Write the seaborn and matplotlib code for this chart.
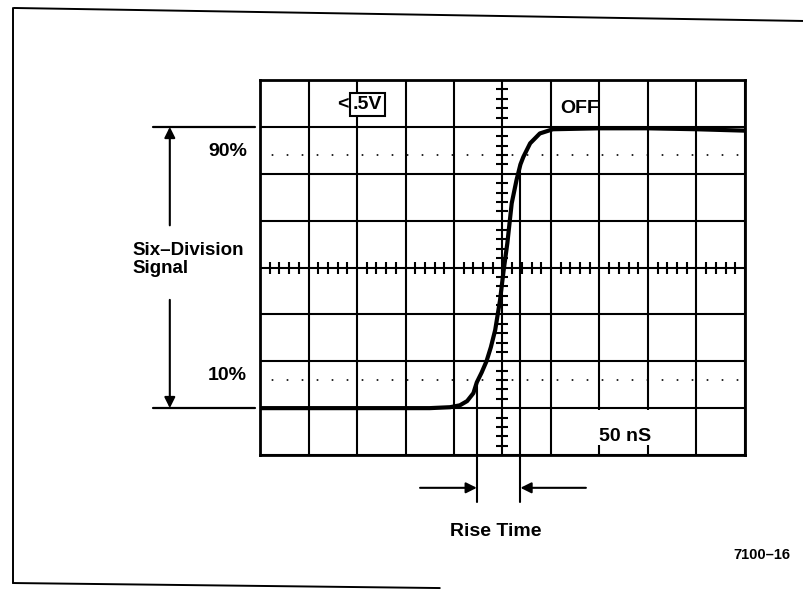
import numpy as np
import pandas as pd
import seaborn as sns
import matplotlib.pyplot as plt
from matplotlib.lines import Line2D
from matplotlib.patches import Rectangle

# step response trace, in graticule divisions (x: 0..10, y: -4..4)
trace_x = [0.0, 1.0, 2.0, 3.0, 3.5, 3.92, 4.12, 4.27, 4.40, 4.47, 4.57,
           4.67, 4.76, 4.85, 4.95, 5.02, 5.10, 5.19, 5.29, 5.37, 5.43,
           5.57, 5.77, 6.04, 7.0, 8.0, 9.0, 10.0]
trace_y = [-3.0, -3.0, -3.0, -3.0, -3.0, -2.98, -2.94, -2.85, -2.68, -2.45,
           -2.24, -2.0, -1.7, -1.33, -0.69, -0.09, 0.52, 1.37, 1.87,
           2.2, 2.36, 2.65, 2.86, 2.95, 2.97, 2.97, 2.95, 2.92]

level_lo, level_hi = -3.0, 3.0      # six-division signal
pct_lo, pct_hi = -2.4, 2.4          # 10% / 90% dotted lines
t10, t90 = 4.47, 5.37               # rise time markers

df = pd.DataFrame({'x': trace_x, 'y': trace_y})

sns.set_style('white')
plt.rcParams['font.family'] = ['Liberation Sans', 'DejaVu Sans']
plt.rcParams['text.color'] = 'black'

fig = plt.figure(figsize=(8.04, 5.91), dpi=100)
ax = fig.add_axes([0.3234, 0.2301, 0.6032, 0.6345])

ax.set_xlim(0, 10)
ax.set_ylim(-4, 4)
ax.set_xticks(np.arange(0, 11))
ax.set_yticks(np.arange(-4, 5))
ax.tick_params(length=0, labelbottom=False, labelleft=False)
ax.grid(True, color='black', linewidth=1.5)
ax.set_axisbelow(True)
for s in ax.spines.values():
    s.set_linewidth(2)
    s.set_color('black')

# 10% / 90% dotted lines
for yv in (pct_lo, pct_hi):
    ax.axhline(yv, color='black', lw=1.2, ls=(2, (1, 8)), zorder=1)

# center graticule minor ticks
minor = [v for v in np.round(np.arange(0.2, 10, 0.2), 1) if abs(v - round(v)) > 1e-6]
ax.plot(minor, np.zeros(len(minor)), ls='none', marker='|', ms=9, mew=1.5,
        color='black', zorder=2)
minor_y = [v for v in np.round(np.arange(-3.8, 4, 0.2), 1) if abs(v - round(v)) > 1e-6]
ax.plot(np.full(len(minor_y), 5.0), minor_y, ls='none', marker='_', ms=9, mew=1.5,
        color='black', zorder=2)

# trace
sns.lineplot(data=df, x='x', y='y', ax=ax, color='black', linewidth=3,
             sort=False, zorder=5)
ax.set_xlabel('')
ax.set_ylabel('')

fs = 14
# volts/div readout and OFF
ax.text(2.22, 3.47, '.5V', ha='center', va='center', fontsize=fs, weight='bold',
        bbox=dict(boxstyle='square,pad=0.15', fc='white', ec='black', lw=1.5),
        zorder=6)
ax.text(1.7, 3.47, '<', ha='center', va='center', fontsize=fs, weight='bold', zorder=6)
ax.text(6.6, 3.4, 'OFF', ha='center', va='center', fontsize=fs, weight='bold', zorder=6)

# 50 nS label breaking the grid lines
ax.add_patch(Rectangle((6.9, -3.78), 1.25, 0.74, fc='white', ec='none', zorder=3))
ax.text(7.53, -3.6, '50 nS', ha='center', va='center', fontsize=fs, weight='bold', zorder=6)

# left side: six-division signal
for yv in (level_lo, level_hi):
    ax.plot([-2.2, -0.1], [yv, yv], color='black', lw=1.6, clip_on=False)
ap = dict(arrowstyle='-|>', color='black', lw=1.5, mutation_scale=16,
          shrinkA=0, shrinkB=0)
ax.annotate('', xy=(-1.86, level_hi), xytext=(-1.86, 0.9), arrowprops=ap,
            annotation_clip=False)
ax.annotate('', xy=(-1.86, level_lo), xytext=(-1.86, -0.69), arrowprops=ap,
            annotation_clip=False)
ax.text(-0.27, 2.48, '90%', ha='right', va='center', fontsize=fs, weight='bold')
ax.text(-0.27, -2.3, '10%', ha='right', va='center', fontsize=fs, weight='bold')
ax.text(-2.62, 0.36, 'Six\u2013Division', ha='left', va='center', fontsize=13.5,
        weight='bold')
ax.text(-2.62, -0.02, 'Signal', ha='left', va='center', fontsize=13.5, weight='bold')

# rise time markers
y10 = np.interp(t10, trace_x, trace_y)
y90 = np.interp(t90, trace_x, trace_y)
ax.plot([t10, t10], [y10, -5.0], color='black', lw=1.5, clip_on=False)
ax.plot([t90, t90], [y90, -5.0], color='black', lw=1.5, clip_on=False)
ax.annotate('', xy=(t10, -4.7), xytext=(3.3, -4.7), arrowprops=ap,
            annotation_clip=False)
ax.annotate('', xy=(t90, -4.7), xytext=(6.72, -4.7), arrowprops=ap,
            annotation_clip=False)
ax.text(4.87, -5.64, 'Rise Time', ha='center', va='center', fontsize=fs, weight='bold')

# figure number and outer frame
fig.text(0.948, 0.061, '7100\u201316', ha='center', va='center', fontsize=10.5,
         weight='bold')
frame_kw = dict(color='black', lw=1.4)
fig.add_artist(Line2D([0.0174, 1.0], [0.9865, 0.9645], **frame_kw))
fig.add_artist(Line2D([0.0162, 0.0162], [0.9865, 0.0135], **frame_kw))
fig.add_artist(Line2D([0.0162, 0.547], [0.0135, 0.005], **frame_kw))

fig.savefig('out.png', dpi=100)
